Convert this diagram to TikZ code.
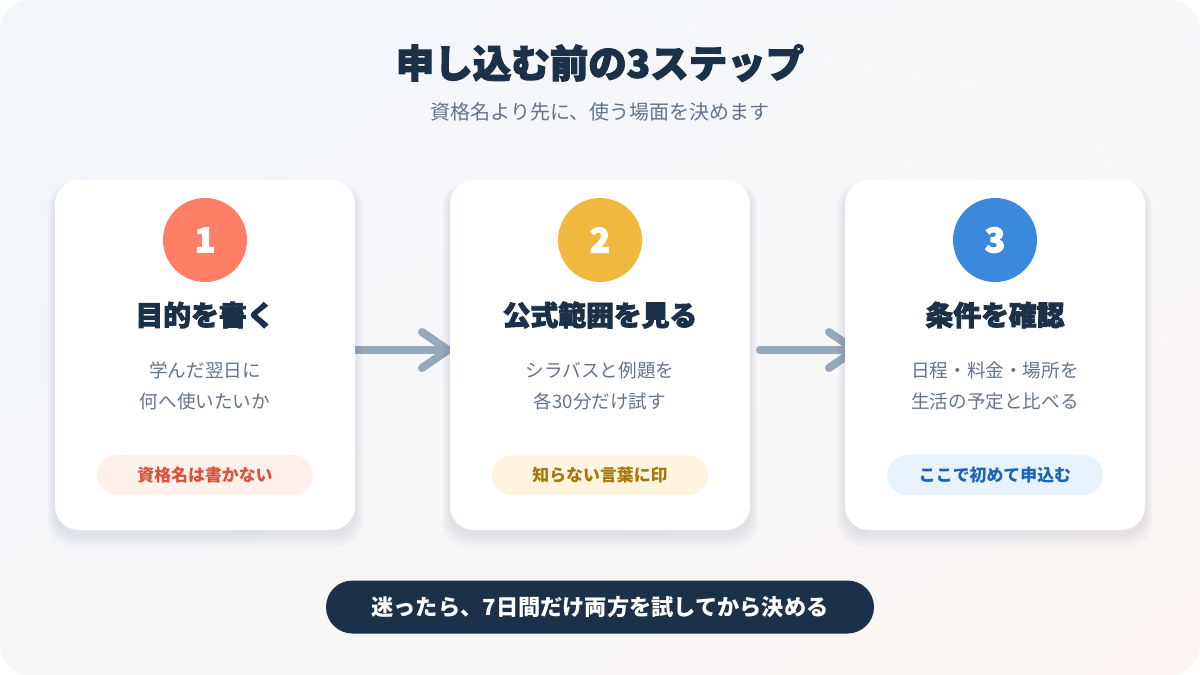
\documentclass[tikz,border=0pt]{standalone}
\usepackage{fontspec}
\setmainfont{Noto Sans CJK JP}
\newfontfamily\heavyfont{Noto Sans CJK JP}[BoldFeatures={FakeBold=3}]
\usetikzlibrary{calc,shadings}
\definecolor{bgA}{HTML}{F2F7FC}
\definecolor{bgB}{HTML}{F8F8FA}
\definecolor{bgC}{HTML}{F6F7F9}
\definecolor{bgD}{HTML}{FCF5F2}
\definecolor{navy}{HTML}{1B3049}
\definecolor{slate}{HTML}{64748B}
\definecolor{arrowgray}{HTML}{97A8BA}
\definecolor{shadowc}{HTML}{2A3F5F}
\definecolor{coral}{HTML}{FF7F66}
\definecolor{gold}{HTML}{F0B83E}
\definecolor{sky}{HTML}{3A89DD}
\definecolor{pillA}{HTML}{FFF0EC}
\definecolor{pillAtext}{HTML}{D9523C}
\definecolor{pillB}{HTML}{FFF5DE}
\definecolor{pillBtext}{HTML}{A5780F}
\definecolor{pillC}{HTML}{E8F2FD}
\definecolor{pillCtext}{HTML}{1F63B3}
\tikzset{
  titletext/.style={text=navy, inner sep=0, font={\heavyfont\bfseries\fontsize{38.5}{42}\selectfont}},
  subtext/.style={text=slate, inner sep=0, font={\fontsize{20}{22}\selectfont}},
  card/.style={fill=white, rounded corners=24pt, minimum width=300pt, minimum height=350pt, inner sep=0},
  numdisc/.style={circle, minimum size=84pt, inner sep=0, text=white, font={\heavyfont\bfseries\fontsize{34}{36}\selectfont}},
  headtext/.style={text=navy, inner sep=0, font={\heavyfont\bfseries\fontsize{27.8}{30}\selectfont}},
  bodytext/.style={text=slate, inner sep=0, align=center, font={\fontsize{18.6}{31}\selectfont}},
  pill/.style={rounded corners=20pt, minimum width=216pt, minimum height=40pt, inner sep=0, font={\bfseries\fontsize{16.9}{18}\selectfont}},
  banner/.style={fill=navy, text=white, rounded corners=26.5pt, minimum width=548pt, minimum height=53pt, inner sep=0, font={\bfseries\fontsize{22.2}{24}\selectfont}},
  arrowline/.style={draw=arrowgray, line width=8pt, line cap=round, line join=round},
}
\begin{document}
\begin{tikzpicture}[x=1pt,y=-1pt]
\useasboundingbox (0,0) rectangle (1200,675);
\shade[rounded corners=30pt, upper left=bgA, upper right=bgB, lower left=bgC, lower right=bgD] (0,0) rectangle (1200,675);

\node[titletext] (title) at (600,63) {申し込む前の3ステップ};
\node[subtext] (sub) at (600,112) {資格名より先に、使う場面を決めます};

% arrows (drawn below the cards)
\coordinate (a1s) at (353,350);
\coordinate (a1e) at (448,350);
\coordinate (a2s) at (760,350);
\coordinate (a2e) at (855,350);
\draw[arrowline] (a1s) -- (a1e);
\draw[arrowline] ($(a1e)+(-26,-18)$) -- (a1e) -- ($(a1e)+(-26,18)$);
\draw[arrowline] (a2s) -- (a2e);
\draw[arrowline] ($(a2e)+(-26,-18)$) -- (a2e) -- ($(a2e)+(-26,18)$);

% card shadows
\foreach \cx in {205,600,995}{
  \foreach \i in {1,...,8}{
    \fill[shadowc, opacity=0.011, rounded corners=24pt]
      (\cx-150-\i*1.0, 186-\i*0.4) rectangle (\cx+150+\i*1.0, 534+\i*1.6);
  }
}

% cards
\node[card] (c1) at (205,355) {};
\node[card] (c2) at (600,355) {};
\node[card] (c3) at (995,355) {};

% step 1
\node[numdisc, fill=coral] (n1) at (205,240) {1};
\node[headtext] (h1) at (205,315) {目的を書く};
\node[bodytext] (b1) at (205,386) {学んだ翌日に\\何へ使いたいか};
\node[pill, fill=pillA, text=pillAtext] (p1) at (205,475) {資格名は書かない};

% step 2
\node[numdisc, fill=gold] (n2) at (600,240) {2};
\node[headtext] (h2) at (600,315) {公式範囲を見る};
\node[bodytext] (b2) at (600,386) {シラバスと例題を\\各30分だけ試す};
\node[pill, fill=pillB, text=pillBtext] (p2) at (600,475) {知らない言葉に印};

% step 3
\node[numdisc, fill=sky] (n3) at (995,240) {3};
\node[headtext] (h3) at (995,315) {条件を確認};
\node[bodytext] (b3) at (995,386) {日程・料金・場所を\\生活の予定と比べる};
\node[pill, fill=pillC, text=pillCtext] (p3) at (995,475) {ここで初めて申込む};

% banner
\node[banner] (ban) at (600,607) {迷ったら、7日間だけ両方を試してから決める};
\end{tikzpicture}
\end{document}
